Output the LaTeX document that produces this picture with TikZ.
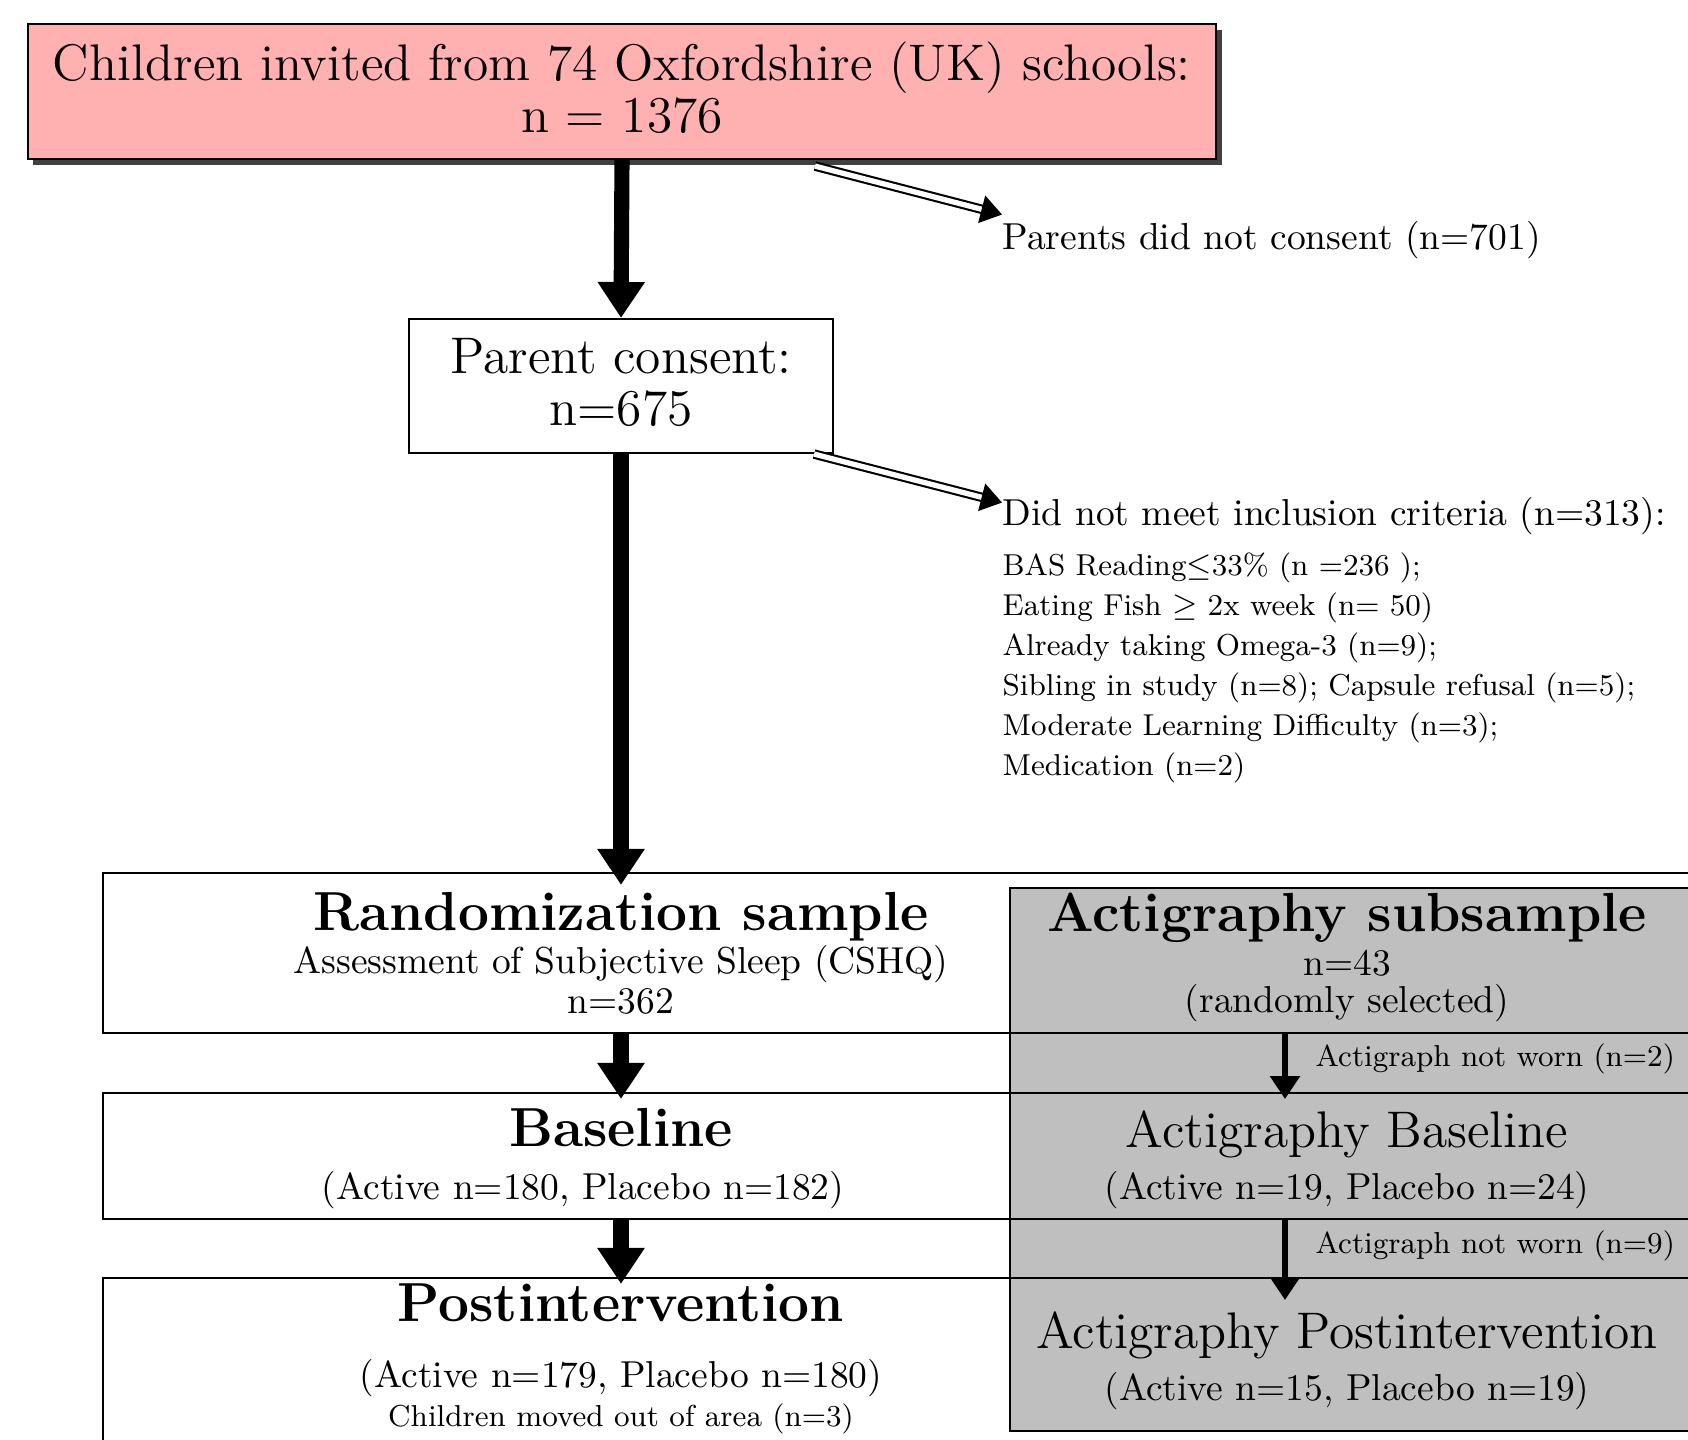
\documentclass[tikz,border=0pt]{standalone}
\usepackage{amsmath}
\usepackage{amssymb}
\usepackage{xcolor}
\usepackage{tikz}
\usetikzlibrary{positioning, arrows.meta, shadows}

\begin{document}
\begin{tikzpicture}
        [ node distance=4mm
        , box/.style={draw, line width=0.6pt, inner sep=0pt}
        , li/.style={anchor=west, inner sep=0pt}
        , tx/.style={inner sep=0pt, align=center}
        , big/.style={line width=4.3pt, -{Triangle[length=3.6mm, width=4.5mm]}}
        , acts/.style={line width=1.7pt, -{Triangle[length=2.3mm, width=2.9mm]}}
        , dbl/.style={double, double distance=1.5pt, line width=0.6pt, -{Triangle[length=2.1mm, width=2.8mm]}}
        ]
        \definecolor{pinkfill}{rgb}{1.0,0.69,0.69}
        \definecolor{actgray}{rgb}{0.75,0.75,0.75}
        \newcommand{\fbig}{\fontsize{14.65}{14.8}\selectfont}
        \newcommand{\fhead}{\fontsize{15.65}{18}\selectfont\bfseries}
        \newcommand{\fmid}{\fontsize{10.68}{13}\selectfont}
        \newcommand{\fnorm}{\fontsize{10.67}{13}\selectfont}
        \newcommand{\flist}{\fontsize{8.6}{10.5}\selectfont}
        \newcommand{\fsmall}{\fontsize{8.62}{10.5}\selectfont}

        \useasboundingbox (0,0) rectangle (16.88,-14.39);
        \clip (0,0) rectangle (16.88,-14.39);

        % invitation and consent
        \node (inv) [box, fill=pinkfill, minimum width=11.88cm, minimum height=1.35cm, align=center, font=\fbig, text depth=2.2pt,
                     drop shadow={shadow xshift=0.55mm, shadow yshift=-0.55mm, fill=black!75, opacity=1}]
              at (6.22,-0.915) {Children invited from 74 Oxfordshire (UK) schools:\\n = 1376};
        \node (pc) [box, minimum width=4.24cm, minimum height=1.34cm, align=center, font=\fbig, text depth=2.2pt] at (6.21,-3.86) {Parent consent:\\n=675};
        \draw[big] (inv.south) -- (pc.north);

        \node (nc) [li, font=\fmid] at (10.02,-2.40) {Parents did not consent (n=701)};
        \draw[dbl] ([xshift=1.93cm, yshift=-0.6mm]inv.south) -- ([yshift=0.6mm]nc.north west);

        \node (dnm) [li, font=\fmid] at (10.02,-5.16) {Did not meet inclusion criteria (n=313):};
            \node (dn1) [below=5.2mm of dnm.west, li, font=\flist] {BAS Reading$\leq$33\% (n =236 );};
            \node (dn2) [below=of dn1.west, li, font=\flist] {Eating Fish $\geq$ 2x week (n= 50)};
            \node (dn3) [below=of dn2.west, li, font=\flist] {Already taking Omega-3 (n=9);};
            \node (dn4) [below=of dn3.west, li, font=\flist] {Sibling in study (n=8); Capsule refusal (n=5);};
            \node (dn5) [below=of dn4.west, li, font=\flist] {Moderate Learning Difficulty (n=3);};
            \node (dn6) [below=of dn5.west, li, font=\flist] {Medication (n=2)};
        \draw[dbl] ([xshift=-2mm]pc.south east) -- ([yshift=-0.6mm]dnm.north west);

        % trial rows
        \node (actB) [box, fill=actgray, minimum width=7.4cm, minimum height=5.43cm] at (13.8,-11.595) {};
        \node (rndB) [box, minimum width=16.5cm, minimum height=1.60cm] at (9.28,-9.53) {};
        \node (basB) [box, minimum width=16.5cm, minimum height=1.26cm] at (9.28,-11.56) {};
        \node (posB) [box, minimum width=16.5cm, minimum height=2.4cm] at (9.28,-13.98) {};

        \node (rs) [tx, font=\fhead] at (6.21,-9.17) {Randomization sample};
        \node (rs1) [tx, font=\fnorm] at (6.21,-9.64) {Assessment of Subjective Sleep (CSHQ)};
        \node (rs2) [tx, font=\fnorm] at (6.21,-10.01) {n=362};
        \node (bl) [tx, font=\fhead] at (6.21,-11.28) {Baseline};
        \node (bl1) [tx, font=\fnorm] at (5.83,-11.90) {(Active n=180, Placebo n=182)};
        \node (pi) [tx, font=\fhead] at (6.21,-13.03) {Postintervention};
        \node (pi1) [tx, font=\fnorm] at (6.21,-13.78) {(Active n=179, Placebo n=180)};
        \node (pi2) [tx, font=\fsmall] at (6.21,-14.19) {Children moved out of area (n=3)};

        \node (as) [tx, font=\fhead] at (13.47,-9.18) {Actigraphy subsample};
        \node (as1) [tx, font=\fnorm] at (13.47,-9.63) {n=43};
        \node (as2) [tx, font=\fnorm] at (13.47,-10.03) {(randomly selected)};
        \node (ab) [tx, font=\fbig] at (13.47,-11.34) {Actigraphy Baseline};
        \node (ab1) [tx, font=\fnorm] at (13.47,-11.90) {(Active n=19, Placebo n=24)};
        \node (ap) [tx, font=\fbig] at (13.47,-13.35) {Actigraphy Postintervention};
        \node (ap1) [tx, font=\fnorm] at (13.47,-13.91) {(Active n=15, Placebo n=19)};

        \draw[big, shorten >=-1.3mm] (pc.south) -- (pc.south |- rndB.north);
        \draw[big, shorten >=-0.7mm] (rndB.south -| pc.south) -- (basB.north -| pc.south);
        \draw[big, shorten >=-0.7mm] (basB.south -| pc.south) -- (posB.north -| pc.south);

        \coordinate (ae1) at (12.85,-10.99);
        \coordinate (ae2) at (12.85,-13.00);
        \draw[acts] (rndB.south -| ae1) -- (ae1);
        \draw[acts] (basB.south -| ae2) -- (ae2);
        \node (nw1) [li, font=\fsmall] at (13.15,-10.59) {Actigraph not worn (n=2)};
        \node (nw2) [li, font=\fsmall] at (13.15,-12.46) {Actigraph not worn (n=9)};

\end{tikzpicture}
\end{document}
